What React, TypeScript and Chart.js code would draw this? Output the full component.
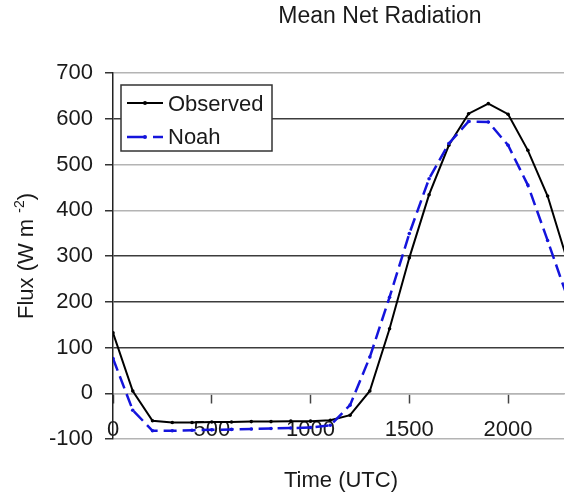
import React, { useEffect, useRef } from 'react';
import { Chart, registerables } from 'chart.js';

Chart.register(...registerables);

const hours = [0, 100, 200, 300, 400, 500, 600, 700, 800, 900, 1000, 1100, 1200, 1300, 1400, 1500, 1600, 1700, 1800, 1900, 2000, 2100, 2200, 2300];
const observed = [132, 5, -60, -64, -64, -63, -63, -62, -62, -61, -61, -59, -48, 5, 141, 296, 434, 542, 611, 633, 610, 531, 431, 290];
const noah = [76, -37, -82, -82, -81, -80, -79, -78, -77, -76, -75, -70, -26, 79, 210, 349, 469, 546, 594, 593, 542, 455, 334, 210];
const seriesNames = ['Observed', 'Noah'];
const yTickValues = [-100, 0, 100, 200, 300, 400, 500, 600, 700];
const xTickValues = [0, 500, 1000, 1500, 2000];
const chartTitle = 'Mean Net Radiation';
const xAxisTitle = 'Time (UTC)';
const yAxisTitleMain = 'Flux (W m ';
const yAxisTitleSup = '-2';
const yAxisTitleEnd = ')';

const FONT = '"Liberation Sans", Arial, sans-serif';
const OBS_COLOR = '#000000';
const NOAH_COLOR = '#1414dc';

const textPlugin = {
  id: 'customText',
  afterDraw(chart: any) {
    const ctx = chart.ctx as CanvasRenderingContext2D;
    ctx.save();
    ctx.fillStyle = '#1a1a1a';
    // Title
    ctx.font = `23px ${FONT}`;
    ctx.textAlign = 'center';
    ctx.textBaseline = 'alphabetic';
    ctx.fillText(chartTitle, 380, 23);
    // X title
    ctx.font = `22px ${FONT}`;
    ctx.fillText(xAxisTitle, 341, 487);
    // Y title rotated with superscript
    ctx.save();
    ctx.translate(33, 256);
    ctx.rotate(-Math.PI / 2);
    ctx.textAlign = 'left';
    ctx.font = `22px ${FONT}`;
    const w1 = ctx.measureText(yAxisTitleMain).width;
    const w3 = ctx.measureText(yAxisTitleEnd).width;
    ctx.font = `14px ${FONT}`;
    const w2 = ctx.measureText(yAxisTitleSup).width;
    const total = w1 + w2 + w3;
    let x = -total / 2;
    ctx.font = `22px ${FONT}`;
    ctx.fillText(yAxisTitleMain, x, 0);
    x += w1;
    ctx.font = `14px ${FONT}`;
    ctx.fillText(yAxisTitleSup, x, -9);
    x += w2;
    ctx.font = `22px ${FONT}`;
    ctx.fillText(yAxisTitleEnd, x, 0);
    ctx.restore();

    // Legend box
    ctx.fillStyle = '#ffffff';
    ctx.fillRect(121, 85, 151, 66);
    ctx.strokeStyle = '#333333';
    ctx.lineWidth = 1.5;
    ctx.strokeRect(121, 85, 151, 66);
    // Observed sample
    ctx.strokeStyle = OBS_COLOR;
    ctx.lineWidth = 2;
    ctx.setLineDash([]);
    ctx.beginPath();
    ctx.moveTo(127, 103);
    ctx.lineTo(163, 103);
    ctx.stroke();
    ctx.fillStyle = OBS_COLOR;
    ctx.beginPath();
    ctx.arc(145, 103, 2, 0, Math.PI * 2);
    ctx.fill();
    // Noah sample
    ctx.strokeStyle = NOAH_COLOR;
    ctx.lineWidth = 2.5;
    ctx.setLineDash([18, 8]);
    ctx.beginPath();
    ctx.moveTo(127, 137);
    ctx.lineTo(163, 137);
    ctx.stroke();
    ctx.setLineDash([]);
    ctx.fillStyle = NOAH_COLOR;
    ctx.beginPath();
    ctx.arc(145, 137, 2, 0, Math.PI * 2);
    ctx.fill();
    // Legend text
    ctx.fillStyle = '#1a1a1a';
    ctx.font = `22px ${FONT}`;
    ctx.textAlign = 'left';
    ctx.fillText(seriesNames[0], 168, 111);
    ctx.fillText(seriesNames[1], 168, 144);
    ctx.restore();
  },
};

export default function App() {
  const ref = useRef<HTMLCanvasElement | null>(null);

  useEffect(() => {
    if (!ref.current) return;
    const chart = new Chart(ref.current, {
      type: 'line',
      data: {
        datasets: [
          {
            label: seriesNames[1],
            data: hours.map((h, i) => ({ x: h, y: noah[i] })),
            borderColor: NOAH_COLOR,
            backgroundColor: NOAH_COLOR,
            borderWidth: 2.5,
            borderDash: [13, 6],
            pointRadius: 1.8,
            pointBorderWidth: 0,
            tension: 0,
          },
          {
            label: seriesNames[0],
            data: hours.map((h, i) => ({ x: h, y: observed[i] })),
            borderColor: OBS_COLOR,
            backgroundColor: OBS_COLOR,
            borderWidth: 2,
            pointRadius: 1.8,
            pointBorderWidth: 0,
            tension: 0,
          },
        ],
      },
      options: {
        animation: false,
        responsive: false,
        devicePixelRatio: 1,
        layout: { padding: { top: 73, bottom: 56, left: 0, right: 0 } },
        plugins: {
          legend: { display: false },
          tooltip: { enabled: false },
          title: { display: false },
        },
        scales: {
          x: {
            type: 'linear',
            position: { y: 0 } as any,
            min: 0,
            max: 2283,
            afterFit: (s: any) => {
              s.height = 0;
            },
            afterBuildTicks: (s: any) => {
              s.ticks = xTickValues.map((v) => ({ value: v }));
            },
            ticks: {
              callback: (v: any) => String(v),
              font: { family: FONT, size: 22 },
              color: '#1a1a1a',
              padding: 14,
              maxRotation: 0,
              autoSkip: false,
            },
            grid: {
              display: true,
              drawOnChartArea: false,
              drawTicks: true,
              tickLength: 9,
              tickColor: '#444444',
              tickWidth: 1.5,
            },
            border: { display: true, color: '#b4b4b4', width: 1.5 },
          },
          y: {
            type: 'linear',
            min: -100,
            max: 700,
            afterFit: (s: any) => {
              s.width = 113;
            },
            afterBuildTicks: (s: any) => {
              s.ticks = yTickValues.map((v) => ({ value: v }));
            },
            ticks: {
              font: { family: FONT, size: 22 },
              color: '#1a1a1a',
              padding: 12,
            },
            grid: {
              color: (c: any) => {
                const v = c.tick ? c.tick.value : 0;
                return v === 100 || v === 200 || v === 300 || v === 600 ? '#3c3c3c' : '#b4b4b4';
              },
              lineWidth: 1.5,
              drawTicks: true,
              tickLength: 8,
              tickColor: '#333333',
            },
            border: { display: true, color: '#222222', width: 1.5 },
          },
        },
      },
      plugins: [textPlugin],
    } as any);
    return () => chart.destroy();
  }, []);

  return (
    <div style={{ position: 'fixed', left: 0, top: 0, width: 568, height: 495, background: '#ffffff' }}>
      <canvas ref={ref} width={568} height={495} style={{ width: 568, height: 495, display: 'block' }} />
    </div>
  );
}
